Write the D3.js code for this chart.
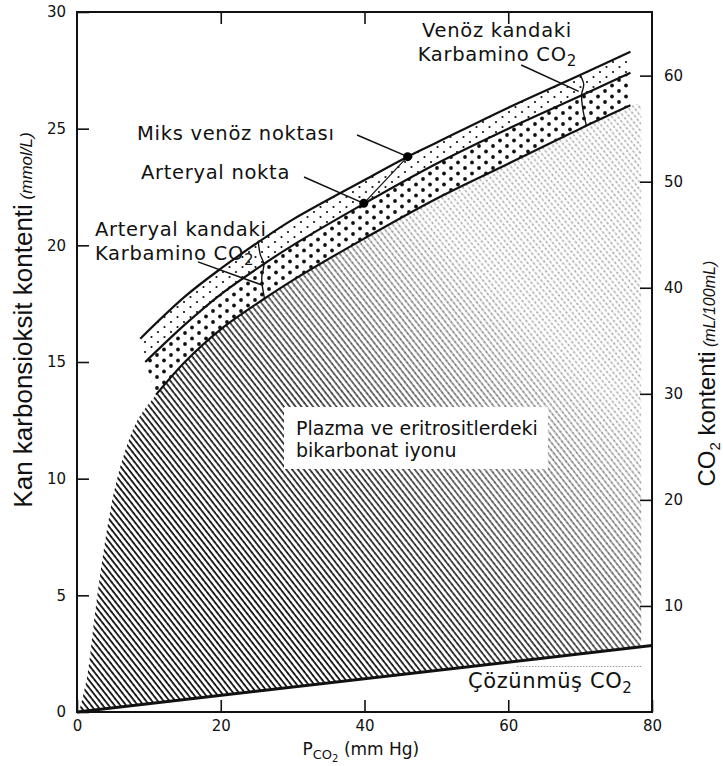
<!DOCTYPE html>
<html>
<head>
<meta charset="utf-8">
<script src="https://cdn.jsdelivr.net/npm/d3@7"></script>
<style>
  body { margin: 0; background: #fff; }
  svg { display: block; }
  .tick text { font-family: "DejaVu Sans", sans-serif; fill: #111; }
</style>
</head>
<body>
<div id="chart"></div>
<script>
// --- data (PCO2 mmHg, content mmol/L) ---
const pco2Ticks  = [0, 20, 40, 60, 80];
const leftTicks  = [0, 5, 10, 15, 20, 25, 30];
const rightTicks = [10, 20, 30, 40, 50, 60];

const bicarbEdge    = [[0.3,0],[1.4,1.5],[2.5,4.2],[3.7,6.9],[5.0,9.2],[6.5,11.0],[8.4,12.5],[11,13.6]];
const bicarbCurve   = [[11,13.6],[15,15.0],[20,16.4],[26,17.7],[30,18.5],[40,20.3],[50,22.0],[60,23.5],[70,25.0],[77,26.0]];
const arterialCurve = [[9.5,15.0],[15,16.6],[20,17.9],[26,19.2],[30,20.0],[40,21.8],[50,23.5],[60,25.0],[70,26.4],[77,27.4]];
const venousCurve   = [[8.8,16.0],[15,17.8],[20,19.0],[26,20.3],[30,21.1],[40,22.8],[46,23.8],[50,24.4],[60,25.9],[70,27.3],[77,28.3]];
const dissolved     = [[0,0],[80,2.85]];
const arterialPoint = [39.9, 21.8];
const venousPoint   = [46, 23.8];
const arterialSep   = [[25.2,20.2],[25.5,19.6],[26.0,19.2],[25.7,18.6],[26.1,17.7]];
const venousSep     = [[70.0,27.3],[70.5,26.9],[70.2,26.45],[70.4,25.8],[70.9,25.1]];

const svg = d3.select("#chart").append("svg").attr("width", 723).attr("height", 766);

const x  = d3.scaleLinear().domain([0, 80]).range([77, 652]);
const y  = d3.scaleLinear().domain([0, 30]).range([712, 12]);
const yR = d3.scaleLinear().domain([0, 66]).range([712, 12]);

const curveLine = d3.line().x(d => x(d[0])).y(d => y(d[1])).curve(d3.curveCatmullRom.alpha(0.5));
const straight  = d3.line().x(d => x(d[0])).y(d => y(d[1]));
const band = (upper, lower) => curveLine(upper) + "L" + curveLine([...lower].reverse()).slice(1) + "Z";

// patterns
const defs = svg.append("defs");
const hatch = defs.append("pattern").attr("id", "hatch").attr("patternUnits", "userSpaceOnUse")
    .attr("width", 4.6).attr("height", 10).attr("patternTransform", "rotate(-38)");
hatch.append("line").attr("x1", 1).attr("y1", -1).attr("x2", 1).attr("y2", 11)
    .attr("stroke", "#000").attr("stroke-width", 1.6);
const hatchLight = defs.append("pattern").attr("id", "hatch-light").attr("patternUnits", "userSpaceOnUse")
    .attr("width", 4.6).attr("height", 9).attr("patternTransform", "rotate(-38)");
hatchLight.append("line").attr("x1", 1).attr("y1", 0).attr("x2", 1).attr("y2", 9)
    .attr("stroke", "#8a8a8a").attr("stroke-width", 1).attr("stroke-dasharray", "2,2.5");

const dotsSmall = defs.append("pattern").attr("id", "dots-small").attr("patternUnits", "userSpaceOnUse")
    .attr("width", 13).attr("height", 10);
dotsSmall.append("circle").attr("cx", 2).attr("cy", 2).attr("r", 1.1).attr("fill", "#111");
dotsSmall.append("circle").attr("cx", 8.5).attr("cy", 7).attr("r", 1.1).attr("fill", "#111");
const dotsBig = defs.append("pattern").attr("id", "dots-big").attr("patternUnits", "userSpaceOnUse")
    .attr("width", 14).attr("height", 11);
dotsBig.append("circle").attr("cx", 3).attr("cy", 3).attr("r", 1.9).attr("fill", "#111");
dotsBig.append("circle").attr("cx", 10).attr("cy", 8.5).attr("r", 1.9).attr("fill", "#111");

const grad = defs.append("linearGradient").attr("id", "fade-grad").attr("gradientUnits", "userSpaceOnUse")
    .attr("x1", x(15)).attr("y1", y(8)).attr("x2", x(60)).attr("y2", y(22));
grad.append("stop").attr("offset", 0).attr("stop-color", "#fff");
grad.append("stop").attr("offset", 0.35).attr("stop-color", "#d0d0d0");
grad.append("stop").attr("offset", 0.85).attr("stop-color", "#111");
defs.append("mask").attr("id", "fade").attr("maskUnits", "userSpaceOnUse")
    .attr("x", 0).attr("y", 0).attr("width", 723).attr("height", 766)
  .append("rect").attr("width", 723).attr("height", 766).attr("fill", "url(#fade-grad)");

// bicarbonate region
const dis = d3.scaleLinear().domain(dissolved.map(d => d[0])).range(dissolved.map(d => d[1]));
const bicarbTop = bicarbEdge.concat(bicarbCurve.slice(1));
const regionPath = curveLine(bicarbTop)
    + "L" + x(78.5) + "," + y(26.1)
    + "L" + x(78.5) + "," + y(dis(78.5))
    + "L" + x(0) + "," + y(0) + "Z";
svg.append("path").attr("d", regionPath).attr("fill", "url(#hatch-light)");
svg.append("path").attr("d", regionPath).attr("fill", "url(#hatch)").attr("mask", "url(#fade)");

// carbamino bands
svg.append("path").attr("d", band(venousCurve, arterialCurve)).attr("fill", "url(#dots-small)");
svg.append("path").attr("d", band(arterialCurve, bicarbCurve)).attr("fill", "url(#dots-big)");

// curves
const curves = svg.append("g").attr("fill", "none").attr("stroke", "#111").attr("stroke-width", 2.2);
[venousCurve, arterialCurve, bicarbCurve].forEach(c => curves.append("path").attr("d", curveLine(c)));
curves.append("path").attr("d", straight(dissolved)).attr("stroke-width", 3);
curves.append("path").attr("d", curveLine(arterialSep)).attr("stroke-width", 1.4);
curves.append("path").attr("d", curveLine(venousSep)).attr("stroke-width", 1.4);
curves.append("path").attr("d", straight([[61.2,1.95],[78.5,1.95]]))
    .attr("stroke", "#999").attr("stroke-width", 1).attr("stroke-dasharray", "1.5,1.5");

// arterial / mixed venous points
curves.append("path").attr("d", straight([arterialPoint, venousPoint])).attr("stroke-width", 1.2);
svg.selectAll(".pt").data([arterialPoint, venousPoint]).join("circle")
    .attr("cx", d => x(d[0])).attr("cy", d => y(d[1])).attr("r", 4.5).attr("fill", "#000");

// pointers
const pointers = [
    [[61.8,27.73],[69.8,26.6]],
    [[38.96,24.73], venousPoint],
    [[31.58,22.93], arterialPoint],
    [[16.83,19.29],[25.74,18.3]]
];
pointers.forEach(p => curves.append("path").attr("d", straight(p)).attr("stroke-width", 1.5));

// annotation texts
const box = svg.append("rect").attr("fill", "#fff");
const notes = svg.append("g").attr("font-family", "DejaVu Sans, sans-serif").attr("font-size", 19.5).attr("fill", "#111");
function note(pos, label, sub, size) {
    const t = notes.append("text").attr("x", x(pos[0])).attr("y", y(pos[1]));
    if (size) t.attr("font-size", size);
    t.append("tspan").text(label);
    if (sub) t.append("tspan").attr("dy", 5).attr("font-size", 15).text(sub);
    return t;
}
note([48.0, 28.95], "Venöz kandaki").attr("letter-spacing", 0.7);
note([47.4, 27.9], "Karbamino CO", "2").attr("letter-spacing", 0.7);
note([8.35, 24.51], "Miks venöz noktası").attr("letter-spacing", 0.7);
note([8.9, 22.84], "Arteryal nokta").attr("letter-spacing", 0.7);
note([2.5, 20.4], "Arteryal kandaki").attr("letter-spacing", 0.7);
note([2.5, 19.37], "Karbamino CO", "2").attr("letter-spacing", 0.7);
note([54.4, 1.03], "Çözünmüş CO", "2", 21).attr("letter-spacing", 0.6);

const b1 = note([30.47, 11.87], "Plazma ve eritrositlerdeki", null, 19);
const b2 = note([30.47, 10.93], "bikarbonat iyonu", null, 19);
const bb1 = b1.node().getBBox(), bb2 = b2.node().getBBox();
box.attr("x", bb1.x - 12).attr("y", bb1.y - 10)
   .attr("width", Math.max(bb1.width, bb2.width) + 22).attr("height", bb2.y + bb2.height - bb1.y + 18);

// axes
const axes = svg.append("g");
axes.append("g").attr("transform", `translate(${x(0)},0)`)
    .call(d3.axisLeft(y).tickValues(leftTicks).tickSizeInner(-12).tickSizeOuter(0).tickPadding(11))
    .call(g => g.selectAll("text").attr("font-size", 15));
axes.append("g").attr("transform", `translate(0,${y(0)})`)
    .call(d3.axisBottom(x).tickValues(pco2Ticks).tickSizeInner(-12).tickSizeOuter(0).tickPadding(8))
    .call(g => g.selectAll("text").attr("font-size", 15));
axes.append("g").attr("transform", `translate(0,${y(30)})`)
    .call(d3.axisTop(x).tickValues([20, 40, 60]).tickSizeInner(-12).tickSizeOuter(0).tickFormat(""));
axes.append("g").attr("transform", `translate(${x(80)},0)`)
    .call(d3.axisRight(yR).tickValues(rightTicks).tickSizeInner(-12).tickSizeOuter(0).tickPadding(12))
    .call(g => g.selectAll("text").attr("font-size", 15));
axes.selectAll(".domain").remove();
axes.selectAll(".tick line").attr("stroke", "#111").attr("stroke-width", 1.6);

svg.append("rect").attr("x", x(0)).attr("y", y(30)).attr("width", x(80) - x(0)).attr("height", y(0) - y(30))
    .attr("fill", "none").attr("stroke", "#111").attr("stroke-width", 2);

// axis titles
const xt = svg.append("text").attr("x", x(39.5)).attr("y", 755).attr("text-anchor", "middle")
    .attr("font-family", "DejaVu Sans, sans-serif").attr("font-size", 17).attr("fill", "#111");
xt.append("tspan").text("P");
xt.append("tspan").attr("dy", 4).attr("font-size", 13).text("CO");
xt.append("tspan").attr("dy", 3).attr("font-size", 10).text("2");
xt.append("tspan").attr("dy", -7).text(" (mm Hg)");

const yl = svg.append("text").attr("transform", `translate(32,${y(16.8)}) rotate(-90)`).attr("text-anchor", "middle")
    .attr("font-family", "Liberation Sans Narrow, sans-serif").attr("font-size", 26).attr("fill", "#111");
yl.append("tspan").text("Kan karbonsioksit kontenti");
yl.append("tspan").attr("font-size", 17).attr("font-style", "italic").text(" (mmol/L)");

const yr = svg.append("text").attr("transform", `translate(715,${y(14.5)}) rotate(-90)`).attr("text-anchor", "middle")
    .attr("font-family", "Liberation Sans Narrow, sans-serif").attr("font-size", 24).attr("fill", "#111");
yr.append("tspan").text("CO");
yr.append("tspan").attr("dy", 5).attr("font-size", 15).text("2");
yr.append("tspan").attr("dy", -5).text(" kontenti");
yr.append("tspan").attr("font-size", 16).attr("font-style", "italic").text(" (mL/100mL)");
</script>
</body>
</html>
